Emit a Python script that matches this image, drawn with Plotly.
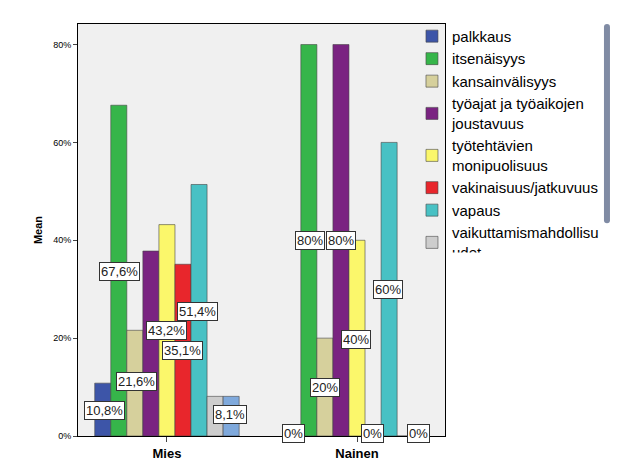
import plotly.graph_objects as go

groups = ["Mies", "Nainen"]
series = ["palkkaus", "itsenäisyys", "kansainvälisyys", "työajat ja työaikojen<br>joustavuus",
          "työtehtävien<br>monipuolisuus", "vakinaisuus/jatkuvuus", "vapaus",
          "vaikuttamismahdollisu<br>udet", "työ on arvostettua"]
colors = ["#3d55a8", "#36b54a", "#d6d09c", "#7a2381", "#fbf76b", "#e8262c", "#48c1c4", "#cdcdcd", "#7fa9dc"]
values = [
    [10.8, 0],
    [67.6, 80],
    [21.6, 20],
    [37.8, 80],
    [43.2, 40],
    [35.1, 0],
    [51.4, 60],
    [8.1, 0],
    [8.1, 0],
]
# value labels (SPSS places them where it finds room)
label_text = ["10,8%", "67,6%", "21,6%", "43,2%", "35,1%", "51,4%", "8,1%",
              "80%", "80%", "20%", "40%", "60%", "0%", "0%", "0%"]
label_x = [-0.328, -0.249, -0.161, 0.0, 0.084, 0.163, 0.33,
           0.751, 0.917, 0.83, 0.996, 1.163, 0.667, 1.079, 1.326]
label_y = [5.3, 33.6, 11.1, 21.5, 17.4, 25.5, 4.3,
           40, 40, 10, 19.8, 30, 0.6, 0.6, 0.6]

fig = go.Figure()
for name, col, vals in zip(series, colors, values):
    fig.add_trace(go.Bar(x=[0, 1], y=vals, name=name, marker_color=col,
                         marker_line=dict(color="#444444", width=0.6)))

for t, x, y in zip(label_text, label_x, label_y):
    fig.add_annotation(x=x, y=y, text=t, showarrow=False, bgcolor="white",
                       bordercolor="#333333", borderwidth=1, borderpad=1,
                       font=dict(family="Liberation Sans", size=13, color="#222222"))

fig.update_layout(
    width=626, height=465, barmode="group", bargap=0.24, bargroupgap=0,
    paper_bgcolor="white", plot_bgcolor="#f0f0f0",
    margin=dict(l=70, r=189, t=12, b=37),
    font=dict(family="Liberation Sans", color="black"),
    legend=dict(x=0.91, y=1.01, yanchor="top", xanchor="left",
                bgcolor="rgba(0,0,0,0)", font=dict(size=15), tracegroupgap=0,
                itemwidth=30),
    showlegend=True,
)
fig.update_xaxes(range=[-0.468, 1.463], tickvals=[0, 1], ticktext=["<b>Mies</b>", "<b>Nainen</b>"],
                 tickfont=dict(size=13), ticks="outside", ticklen=5, showline=True,
                 linecolor="black", mirror=True, showgrid=False)
fig.update_yaxes(range=[0, 84.2], tickvals=[0, 20, 40, 60, 80],
                 ticktext=["0%", "20%", "40%", "60%", "80%"], tickfont=dict(size=9),
                 ticks="outside", ticklen=4, showline=True, linecolor="black", mirror=True,
                 showgrid=False, zeroline=False,
                 title=dict(text="<b>Mean</b>", font=dict(size=11), standoff=8))

fig.write_html("out.html")
